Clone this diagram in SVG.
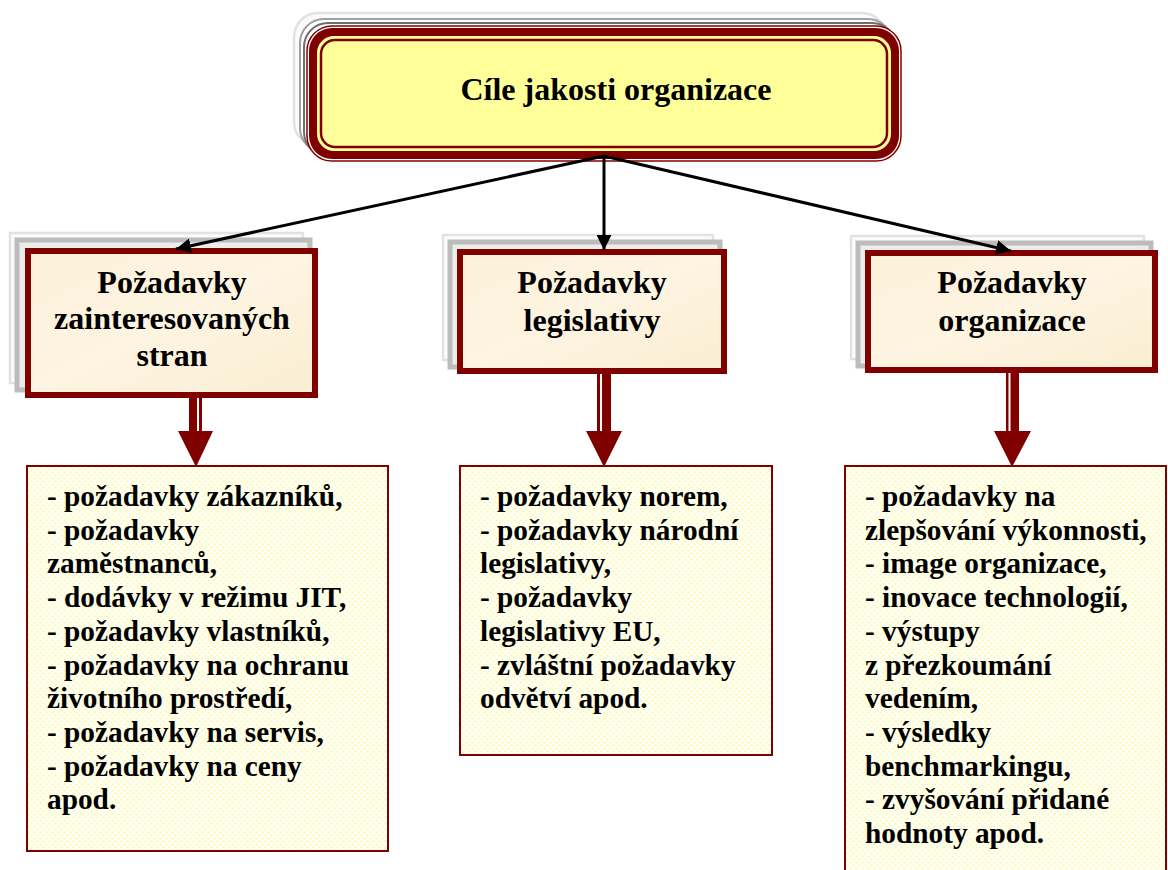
<svg xmlns="http://www.w3.org/2000/svg" width="1168" height="870" viewBox="0 0 1168 870">
  <style>
    .title { font-family: "Liberation Serif", "Times New Roman", serif; font-weight: bold; font-size: 32px; fill: #000; }
    .head { font-family: "Liberation Serif", "Times New Roman", serif; font-weight: bold; font-size: 32px; fill: #000; text-anchor: middle; }
    .list { font-family: "Liberation Serif", "Times New Roman", serif; font-weight: bold; font-size: 29.3px; fill: #000; }
    .conn { stroke: #000; stroke-width: 3; fill: none; }
    .shadow-far { fill: #fbfbfb; stroke: #e2e2e2; stroke-width: 2.5; }
    .shadow-near { fill: #ececec; stroke: #bcbcbc; stroke-width: 5; }
    .headbox { fill: url(#parchment); stroke: #800000; stroke-width: 6; }
    .listbox { fill: url(#dots); stroke: #800000; stroke-width: 2; }
    .fat { fill: #800000; }
  </style>
  <defs>
    <marker id="arrow" viewBox="0 0 10 10" refX="10" refY="5" markerWidth="5" markerHeight="5" markerUnits="strokeWidth" orient="auto">
      <path d="M0,0 L10,5 L0,10 z" fill="#000"/>
    </marker>
    <linearGradient id="parchment" x1="0" y1="0" x2="1" y2="1">
      <stop offset="0" stop-color="#fcf1da"/>
      <stop offset="0.5" stop-color="#fdf4e1"/>
      <stop offset="1" stop-color="#faedd2"/>
    </linearGradient>
    <pattern id="dots" width="6" height="6" patternUnits="userSpaceOnUse">
      <rect width="6" height="6" fill="#fffff2"/>
      <circle cx="1.5" cy="1.5" r="1" fill="#fdf7a6"/>
      <circle cx="4.5" cy="4.5" r="1" fill="#fdf7a6"/>
    </pattern>
  </defs>

  <!-- Top node -->
  <g id="node-cile">
    <rect x="294" y="13" width="592" height="133" rx="24" class="shadow-far"/>
    <rect x="300" y="19" width="592" height="133" rx="24" fill="#fff" stroke="#a0a0a0" stroke-width="2"/>
    <rect x="304" y="23" width="592" height="133" rx="24" fill="#fff" stroke="#6f6f6f" stroke-width="2"/>
    <rect x="307" y="26" width="594" height="135" rx="25" fill="#fff" stroke="#800000" stroke-width="1.5"/>
    <rect x="309" y="28" width="590" height="131" rx="23" fill="#800000"/>
    <rect x="317" y="36" width="574" height="115" rx="17" fill="#ffff99"/>
    <rect x="321" y="40" width="566" height="107" rx="14" fill="#ffff99" stroke="#800000" stroke-width="2.5"/>
    <text x="616" y="100" class="title" text-anchor="middle">Cíle jakosti organizace</text>
  </g>

  <!-- Second level: Požadavky zainteresovaných stran -->
  <g id="node-zainteresovane">
    <rect x="10" y="233" width="293" height="150" class="shadow-far"/>
    <rect x="17" y="240" width="293" height="150" class="shadow-near"/>
    <rect x="28" y="251" width="287" height="144" class="headbox"/>
    <text x="172" y="293" class="head">Požadavky</text>
    <text x="172" y="329" class="head">zainteresovaných</text>
    <text x="172" y="366" class="head">stran</text>
  </g>

  <!-- Second level: Požadavky legislativy -->
  <g id="node-legislativa">
    <rect x="443" y="235" width="270" height="125" class="shadow-far"/>
    <rect x="450" y="242" width="270" height="125" class="shadow-near"/>
    <rect x="460" y="252" width="264" height="119" class="headbox"/>
    <text x="592" y="293" class="head">Požadavky</text>
    <text x="592" y="331" class="head">legislativy</text>
  </g>

  <!-- Second level: Požadavky organizace -->
  <g id="node-organizace">
    <rect x="851" y="236" width="293" height="123" class="shadow-far"/>
    <rect x="858" y="243" width="293" height="123" class="shadow-near"/>
    <rect x="868" y="253" width="287" height="117" class="headbox"/>
    <text x="1012" y="293" class="head">Požadavky</text>
    <text x="1012" y="331" class="head">organizace</text>
  </g>

  <!-- Bottom lists -->
  <g id="list-zainteresovane">
    <rect x="27" y="466" width="361" height="385" class="listbox"/>
    <text class="list">
      <tspan x="47" y="506">- požadavky zákazníků,</tspan>
      <tspan x="47" y="539.7">- požadavky</tspan>
      <tspan x="47" y="573.4">zaměstnanců,</tspan>
      <tspan x="47" y="607.1">- dodávky v režimu JIT,</tspan>
      <tspan x="47" y="640.8">- požadavky vlastníků,</tspan>
      <tspan x="47" y="674.5">- požadavky na ochranu</tspan>
      <tspan x="47" y="708.2">životního prostředí,</tspan>
      <tspan x="47" y="741.9">- požadavky na servis,</tspan>
      <tspan x="47" y="775.6">- požadavky na ceny</tspan>
      <tspan x="47" y="809.3">apod.</tspan>
    </text>
  </g>

  <g id="list-legislativa">
    <rect x="460" y="466" width="312" height="289" class="listbox"/>
    <text class="list">
      <tspan x="480" y="506">- požadavky norem,</tspan>
      <tspan x="480" y="539.7">- požadavky národní</tspan>
      <tspan x="480" y="573.4">legislativy,</tspan>
      <tspan x="480" y="607.1">- požadavky</tspan>
      <tspan x="480" y="640.8">legislativy EU,</tspan>
      <tspan x="480" y="674.5">- zvláštní požadavky</tspan>
      <tspan x="480" y="708.2">odvětví apod.</tspan>
    </text>
  </g>

  <g id="list-organizace">
    <rect x="845" y="466" width="321" height="420" class="listbox"/>
    <text class="list">
      <tspan x="865" y="506">- požadavky na</tspan>
      <tspan x="865" y="539.7">zlepšování výkonnosti,</tspan>
      <tspan x="865" y="573.4">- image organizace,</tspan>
      <tspan x="865" y="607.1">- inovace technologií,</tspan>
      <tspan x="865" y="640.8">- výstupy</tspan>
      <tspan x="865" y="674.5">z přezkoumání</tspan>
      <tspan x="865" y="708.2">vedením,</tspan>
      <tspan x="865" y="741.9">- výsledky</tspan>
      <tspan x="865" y="775.6">benchmarkingu,</tspan>
      <tspan x="865" y="809.3">- zvyšování přidané</tspan>
      <tspan x="865" y="843">hodnoty apod.</tspan>
    </text>
  </g>

  <!-- Connectors -->
  <g id="connectors">
    <line x1="604" y1="156" x2="176" y2="249" class="conn" marker-end="url(#arrow)"/>
    <line x1="604" y1="156" x2="604" y2="250" class="conn" marker-end="url(#arrow)"/>
    <line x1="604" y1="156" x2="1011" y2="251" class="conn" marker-end="url(#arrow)"/>

    <!-- block arrows from the headers down to the lists -->
    <g class="fat">
      <rect x="189" y="398" width="8" height="34"/>
      <rect x="199" y="398" width="3" height="34"/>
      <path d="M178,431 L213,431 L196,467 z"/>

      <rect x="597" y="374" width="3" height="58"/>
      <rect x="602" y="374" width="9" height="58"/>
      <path d="M586,431 L622,431 L604,467 z"/>

      <rect x="1006" y="373" width="2.5" height="59"/>
      <rect x="1010.5" y="373" width="8.5" height="59"/>
      <path d="M994,431 L1031,431 L1012,467 z"/>
    </g>
  </g>
</svg>
